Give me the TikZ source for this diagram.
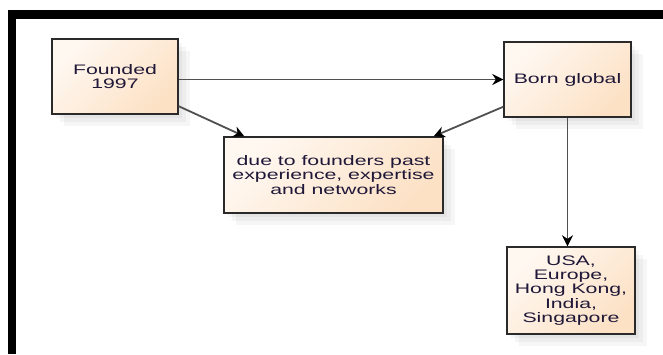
\documentclass[tikz,border=0pt]{standalone}
\usepackage{fontspec}
\setmainfont{Liberation Sans}[FakeStretch=1.54]
\usetikzlibrary{arrows.meta}

\definecolor{boxlight}{HTML}{FFF8F1}
\definecolor{boxdark}{HTML}{FCE1C5}
\definecolor{boxedge}{HTML}{2A2A2A}
\definecolor{inktext}{HTML}{1F1838}
\definecolor{wire}{HTML}{505050}

\tikzset{
  stagebox/.style={
    draw=boxedge, line width=1.4pt,
    top color=boxlight, bottom color=boxdark, shading angle=45,
    % layered soft shadow towards the lower right
    preaction={fill=black, fill opacity=0.035, draw=none,
               transform canvas={shift={(12pt,-12pt)}}},
    preaction={fill=black, fill opacity=0.035, draw=none,
               transform canvas={shift={(8pt,-8pt)}}},
    preaction={fill=black, fill opacity=0.035, draw=none,
               transform canvas={shift={(4pt,-4pt)}}},
    align=center, inner sep=0pt, text=inktext,
    font=\fontsize{13.8}{14.2}\selectfont
  },
  link/.style={draw=wire, line width=1.8pt,
    -{Stealth[length=11pt,width=11pt,color=black]}}
}

\begin{document}
\begin{tikzpicture}[x=1pt,y=-1pt]
  \useasboundingbox (0,0) rectangle (663,354);
  \fill[white] (0,0) rectangle (663,354);

  % heavy frame along the top and left edges
  \fill[black] (8,10) rectangle (663,18.5);
  \fill[black] (8,10) rectangle (16,354);

  % stages
  \node[stagebox, minimum width=126pt, minimum height=75pt] (f) at (115,76.5) {Founded\\1997};
  \node[stagebox, minimum width=127pt, minimum height=75pt] (b) at (567.5,79.5) {Born global};
  \node[stagebox, minimum width=219pt, minimum height=76pt] (d) at (333.5,175)
    {due to founders past\\experience, expertise\\and networks};
  \node[stagebox, minimum width=128pt, minimum height=87pt] (u) at (571,290.5)
    {USA,\\Europe,\\Hong Kong,\\India,\\Singapore};

  % connectors
  \draw[link] (f.east |- b.west) -- (b.west);
  \draw[link] (f.-25) -- ([xshift=21pt]d.north west);
  \draw[link] (b.203) -- ([xshift=-10pt]d.north east);
  \draw[link] (b.south) -- (b.south |- u.north);
\end{tikzpicture}
\end{document}
